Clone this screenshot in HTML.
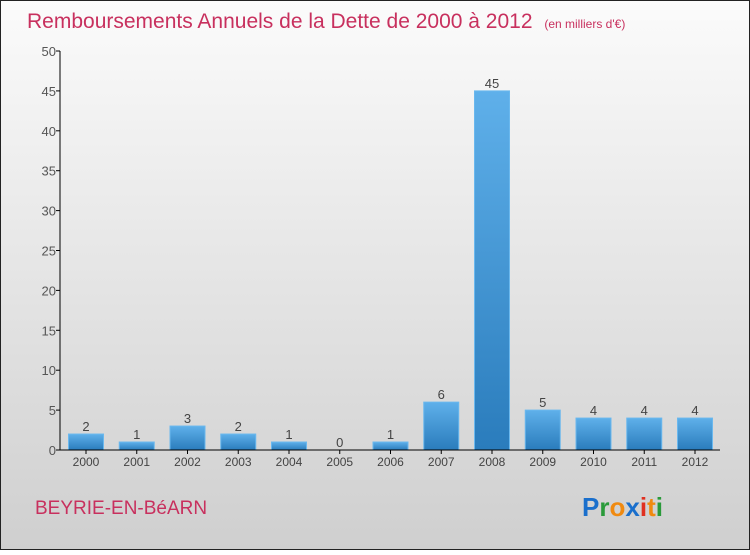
<!DOCTYPE html>
<html><head><meta charset="utf-8"><style>
body{margin:0;width:750px;height:550px;overflow:hidden;font-family:"Liberation Sans",sans-serif;}
</style></head><body>
<svg width="750" height="550" xmlns="http://www.w3.org/2000/svg">
<defs>
<linearGradient id="bg" x1="0" y1="0" x2="0" y2="1"><stop offset="0" stop-color="#fbfbfb"/><stop offset="1" stop-color="#cfcfcf"/></linearGradient>
<linearGradient id="bar" x1="0" y1="0" x2="0" y2="1"><stop offset="0" stop-color="#5fb0ea"/><stop offset="1" stop-color="#2a7cbc"/></linearGradient>
</defs>
<rect x="0.5" y="0.5" width="749" height="549" fill="url(#bg)" stroke="#222"/>
<text x="27" y="28" font-size="21" fill="#c8305e">Remboursements Annuels de la Dette de 2000 à 2012 <tspan font-size="12" dx="6">(en milliers d'€)</tspan></text>
<g id="plot"></g>
<text x="35" y="514" font-size="19" fill="#c8305e">BEYRIE-EN-BéARN</text>
<text x="582" y="516" font-size="26" font-weight="bold"><tspan fill="#1a6fcc">P</tspan><tspan fill="#2a9a3a">r</tspan><tspan fill="#f08a10">o</tspan><tspan fill="#1a6fcc">x</tspan><tspan fill="#e03020">i</tspan><tspan fill="#f08a10">t</tspan><tspan fill="#2a9a3a">i</tspan></text>
</svg>
<script>
const categories=["2000","2001","2002","2003","2004","2005","2006","2007","2008","2009","2010","2011","2012"];
const values=[2,1,3,2,1,0,1,6,45,5,4,4,4];
const yTicks=[0,5,10,15,20,25,30,35,40,45,50];
const NS="http://www.w3.org/2000/svg";
const g=document.getElementById('plot');
const x0=60,x1=720,y0=450,y1=51,yMax=50;
const y=v=>y0-(v/yMax)*(y0-y1);
const step=(x1-x0)/categories.length*0.99;
const xc=i=>86+i*50.75;
function mk(t,a){const e=document.createElementNS(NS,t);for(const k in a)e.setAttribute(k,a[k]);g.appendChild(e);return e;}
yTicks.forEach(t=>{
 const l=mk('line',{x1:x0-4,x2:x0,y1:y(t),y2:y(t),stroke:'#000'});
 
 
 const tx=mk('text',{x:x0-4,y:y(t)+5,'text-anchor':'end','font-size':13,fill:'#555'});tx.textContent=t;
 
 
});
categories.forEach((c,i)=>{
 const v=values[i],h=y0-y(v);
 const r=mk('rect',{x:xc(i)-17.5,y:y(v),width:35,height:h,fill:'url(#bar)',stroke:'#6ab8ee','stroke-width':1});
 
 
 const vl=mk('text',{x:xc(i),y:y(v)-3,'text-anchor':'middle','font-size':13,fill:'#444'});vl.textContent=v;
 
 
 const tk=mk('line',{x1:xc(i),x2:xc(i),y1:y0,y2:y0+4,stroke:'#000'});
 
 
 const xl=mk('text',{x:xc(i),y:y0+16,'text-anchor':'middle','font-size':12,fill:'#444'});xl.textContent=c;
 
 
});
const ya=mk('line',{x1:x0,x2:x0,y1:y1,y2:y0,stroke:'#000'});


const xa=mk('line',{x1:x0,x2:x1,y1:y0,y2:y0,stroke:'#000'});


</script>
</body></html>
